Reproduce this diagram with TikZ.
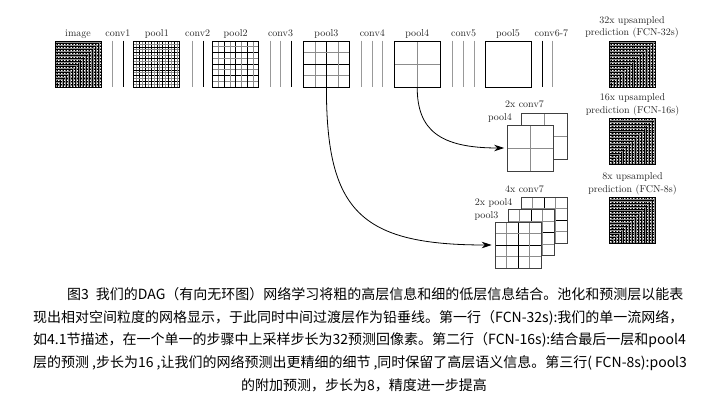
\documentclass[tikz,border=0pt]{standalone}
\usepackage{fontspec}
\usepackage{tikz}
\usetikzlibrary{arrows.meta,positioning,calc}
\newfontfamily\cjkfont{Noto Sans CJK SC}
\XeTeXlinebreaklocale "zh"
\XeTeXlinebreakskip=0pt plus 1pt minus 0.2pt
\colorlet{gridLight}{black!45}
\colorlet{convLight}{black!40}

\begin{document}
\begin{tikzpicture}[
  x=1pt, y=-1pt,
  font=\fontsize{10}{12.5}\selectfont,
  lbl/.style={text=black!85, inner sep=0pt},
  gridlw/.store in=\gridlw, gridlw=0.55pt,
  fmap/.style={draw, fill=white, minimum size=46pt, inner sep=0pt, line width=0.8pt},
  dense/.style={fmap, cells=32, gridlw=0.85pt},
  smap/.style={fmap, draw=black!75, line width=0.7pt},
  gridlight/.style={gridLight, line width=\gridlw},
  griddark/.style={black, line width=\gridlw},
  cells/.style={path picture={
    \foreach \i in {1,...,#1}{
      \ifnum\i<#1
        \ifodd\i \def\gc{gridlight}\else\def\gc{griddark}\fi
        \pgfmathsetmacro\f{\i/#1}
        \draw[\gc] ($(path picture bounding box.south west)!\f!(path picture bounding box.south east)$)
          -- ($(path picture bounding box.north west)!\f!(path picture bounding box.north east)$);
        \draw[\gc] ($(path picture bounding box.south west)!\f!(path picture bounding box.north west)$)
          -- ($(path picture bounding box.south east)!\f!(path picture bounding box.north east)$);
      \fi
    }}},
  convlight/.style={convLight, line width=1pt},
  convdark/.style={black, line width=1pt},
  skiparrow/.style={-{Stealth[length=10pt, width=6.5pt]}, line width=0.8pt, shorten >=3pt},
  caption/.style={font=\cjkfont\fontsize{14}{16}\selectfont, anchor=base west, inner sep=0pt},
]
\fill[white] (0,0) rectangle (711,412);
\useasboundingbox (0,0) rectangle (711,412);

% top row: feature maps
\node[dense] (image) at (78,64) {};
\node[fmap, cells=16, gridlw=0.45pt, right=32pt of image] (pool1) {};
\node[fmap, cells=8, right=32pt of pool1] (pool2) {};
\node[fmap, cells=4, right=44pt of pool2] (pool3) {};
\node[fmap, cells=2, right=44pt of pool3] (pool4) {};
\node[fmap, cells=1, right=44pt of pool4] (pool5) {};

% conv layers as vertical lines
\foreach \src/\dx/\sty in {image/11/convlight, image/22/convdark,
    pool1/12/convlight, pool1/23/convdark,
    pool2/11/convlight, pool2/21/convlight, pool2/32/convdark,
    pool3/12/convlight, pool3/23/convlight, pool3/33/convlight,
    pool4/12/convlight, pool4/23/convlight, pool4/34/convlight,
    pool5/11/convdark, pool5/21/convlight}
  \draw[\sty] ([xshift=\dx pt]\src.north east) -- ([xshift=\dx pt]\src.south east);

\foreach \m in {image,pool1,pool2,pool3,pool4,pool5}
  \node[lbl, anchor=base] (t-\m) at ([yshift=4pt]\m.north) {\m};
\foreach \src/\dx/\txt in {image/16.5/conv1, pool1/17.5/conv2, pool2/21.5/conv3,
    pool3/22.5/conv4, pool4/23/conv5, pool5/20/conv6-7}
  \node[lbl, anchor=base] (t-\txt) at ([xshift=\dx pt, yshift=4pt]\src.north east) {\txt};

% predictions
\node[dense] (fcn32) at (632,64) {};
\node[dense] (fcn16) at (632.5,141.5) {};
\node[dense] (fcn8) at (632.5,220.5) {};
\node[lbl, align=center, inner sep=1pt, above=1pt of fcn32] (t-fcn32) {32x upsampled\\prediction (FCN-32s)};
\node[lbl, align=center, inner sep=1pt, above=1pt of fcn16] (t-fcn16) {16x upsampled\\prediction (FCN-16s)};
\node[lbl, align=center, inner sep=1pt, above=1pt of fcn8] (t-fcn8) {8x upsampled\\prediction (FCN-8s)};

% FCN-16s fusion
\node[smap, cells=2] (conv7x2) at (544,136) {};
\node[smap, cells=2] (pool4b) at ([shift={(-13.5,12)}]conv7x2.center) {};
\node[lbl, anchor=base east] (t-conv7x2) at ([yshift=5.5pt]conv7x2.north) {2x conv7};
\node[lbl, anchor=base east] (t-pool4b) at ([xshift=5pt, yshift=4pt]pool4b.north west) {pool4};

% FCN-8s fusion
\node[smap, cells=4] (conv7x4) at (544,220) {};
\node[smap, cells=4] (pool4x2) at ([shift={(-13,12.5)}]conv7x4.center) {};
\node[smap, cells=4] (pool3b) at ([shift={(-13,12.5)}]pool4x2.center) {};
\node[lbl, anchor=base east] (t-conv7x4) at ([yshift=4pt]conv7x4.north) {4x conv7};
\node[lbl, anchor=base east] (t-pool4x2) at ([xshift=5pt, yshift=3.5pt]pool4x2.north west) {2x pool4};
\node[lbl, anchor=base east] (t-pool3b) at ([xshift=4pt, yshift=3.5pt]pool3b.north west) {pool3};

\draw[skiparrow] (pool4.south) .. controls +(0,43) and +(-67,0) .. (pool4b.west);
\draw[skiparrow] (pool3.south) .. controls +(0,123) and +(-135,0) .. (pool3b.west);

% caption
\node[caption] (cap1) at (67,299.3) {\makebox[628pt][s]{图3\hspace{7pt}我们的DAG（有向无环图）网络学习将粗的高层信息和细的低层信息结合。池化和预测层以能表}};
\node[caption] (cap2) at (33,322) {\makebox[662pt][s]{现出相对空间粒度的网格显示，于此同时中间过渡层作为铅垂线。第一行（FCN-32s):我们的单一流网络，}};
\node[caption] (cap3) at (33,344.7) {\makebox[662pt][s]{如4.1节描述，在一个单一的步骤中上采样步长为32预测回像素。第二行（FCN-16s):结合最后一层和pool4}};
\node[caption] (cap4) at (33,367.4) {\makebox[662pt][s]{层的预测\hspace{3pt},步长为16\hspace{3pt},让我们的网络预测出更精细的细节\hspace{3pt},同时保留了高层语义信息。第三行(\hspace{3pt}FCN-8s):pool3}};
\node[caption, anchor=base] (cap5) at (364,390) {的附加预测，步长为8，精度进一步提高};
\end{tikzpicture}
\end{document}
